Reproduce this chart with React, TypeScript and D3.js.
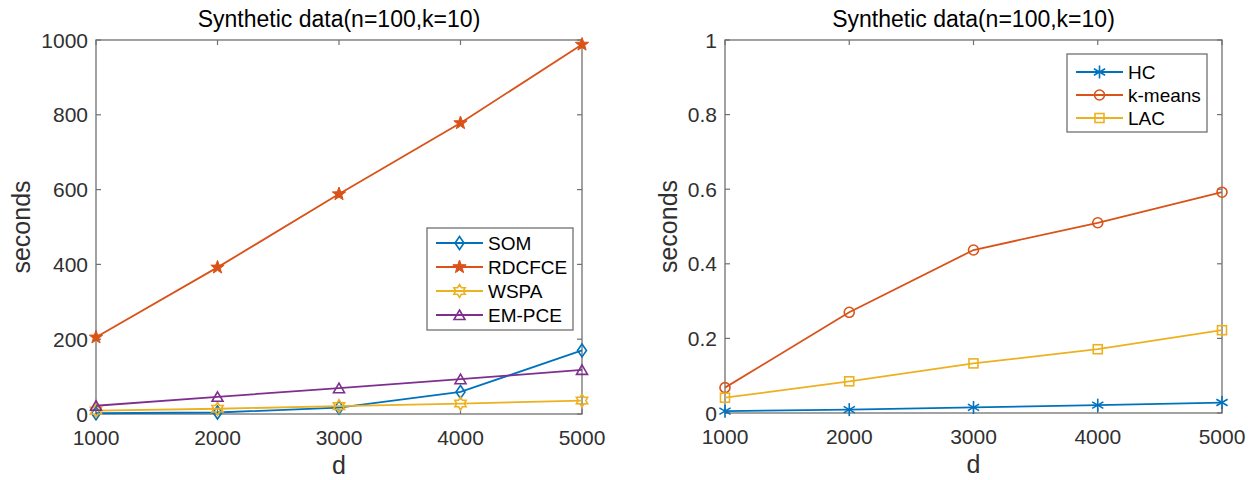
import React from "react";
import * as d3 from "d3";

const dValues = [1000, 2000, 3000, 4000, 5000];

const leftSeries = [
  { name: "SOM", color: "#0072BD", marker: "diamond", values: [2, 4, 17, 59, 170] },
  { name: "RDCFCE", color: "#D95319", marker: "pentagram", values: [205, 392, 588, 778, 988] },
  { name: "WSPA", color: "#EDB120", marker: "hexagram", values: [9, 14, 21, 28, 36] },
  { name: "EM-PCE", color: "#7E2F8E", marker: "triangle", values: [22, 46, 69, 93, 118] },
];

const rightSeries = [
  { name: "HC", color: "#0072BD", marker: "asterisk", values: [0.005, 0.009, 0.015, 0.021, 0.028] },
  { name: "k-means", color: "#D95319", marker: "circle", values: [0.068, 0.27, 0.437, 0.51, 0.592] },
  { name: "LAC", color: "#EDB120", marker: "square", values: [0.041, 0.085, 0.133, 0.171, 0.222] },
];

const leftYTicks = [0, 200, 400, 600, 800, 1000];
const rightYTicks = [0, 0.2, 0.4, 0.6, 0.8, 1];
const xTicks = [1000, 2000, 3000, 4000, 5000];

const titleText = "Synthetic data(n=100,k=10)";
const FONT = "'Liberation Sans', Arial, Helvetica, sans-serif";
const AXIS = "#707070";
const TEXT = "#303030";

function starPath(n: number, ro: number, ri: number) {
  const pts: string[] = [];
  for (let i = 0; i < 2 * n; i++) {
    const r = i % 2 === 0 ? ro : ri;
    const a = -Math.PI / 2 + (i * Math.PI) / n;
    pts.push(`${(r * Math.cos(a)).toFixed(2)},${(r * Math.sin(a)).toFixed(2)}`);
  }
  return "M" + pts.join("L") + "Z";
}

function Marker({ type, x, y, color }: { type: string; x: number; y: number; color: string }) {
  const common = { fill: "none", stroke: color, strokeWidth: 1.6 } as any;
  const t = `translate(${x},${y})`;
  switch (type) {
    case "diamond":
      return <path transform={t} d="M0,-6.5L4.5,0L0,6.5L-4.5,0Z" {...common} />;
    case "pentagram":
      return <path transform={t} d={starPath(5, 7, 2.9)} fill={color} stroke={color} strokeWidth={1} />;
    case "hexagram":
      return <path transform={t} d={starPath(6, 6.5, 3.8)} {...common} />;
    case "triangle":
      return <path transform={t} d="M0,-5L5.5,4.5L-5.5,4.5Z" {...common} />;
    case "asterisk":
      return (
        <g transform={t} stroke={color} strokeWidth={1.6}>
          <line x1={0} y1={-6.5} x2={0} y2={6.5} />
          <line x1={-5.6} y1={-3.25} x2={5.6} y2={3.25} />
          <line x1={-5.6} y1={3.25} x2={5.6} y2={-3.25} />
        </g>
      );
    case "circle":
      return <circle cx={x} cy={y} r={5} {...common} />;
    case "square":
      return <rect x={x - 4.5} y={y - 4.5} width={9} height={9} {...common} />;
  }
  return null;
}

type Series = { name: string; color: string; marker: string; values: number[] };

function Panel({
  x0, x1, y0, y1, yMax, yTicks, series, fmt, ylabelX, legend,
}: {
  x0: number; x1: number; y0: number; y1: number; yMax: number; yTicks: number[];
  series: Series[]; fmt: (v: number) => string; ylabelX: number;
  legend: { x: number; y: number; w: number; h: number; row0: number; dy: number };
}) {
  const xs = d3.scaleLinear().domain([1000, 5000]).range([x0, x1]);
  const ys = d3.scaleLinear().domain([0, yMax]).range([y1, y0]);
  const line = d3.line<number>().x((_, i) => xs(dValues[i])).y((v) => ys(v));
  const tl = 5;
  const cx = (x0 + x1) / 2;
  return (
    <g>
      <rect x={x0} y={y0} width={x1 - x0} height={y1 - y0} fill="white" stroke={AXIS} strokeWidth={1.3} />
      {xTicks.map((t) => (
        <g key={"xt" + t}>
          <line x1={xs(t)} x2={xs(t)} y1={y1} y2={y1 - tl} stroke={AXIS} strokeWidth={1.2} />
          <line x1={xs(t)} x2={xs(t)} y1={y0} y2={y0 + tl} stroke={AXIS} strokeWidth={1.2} />
          <text x={xs(t)} y={y1 + 31} textAnchor="middle" fontSize={21} fill={TEXT} fontFamily={FONT}>
            {t}
          </text>
        </g>
      ))}
      {yTicks.map((t) => (
        <g key={"yt" + t}>
          <line x1={x0} x2={x0 + tl} y1={ys(t)} y2={ys(t)} stroke={AXIS} strokeWidth={1.2} />
          <line x1={x1} x2={x1 - tl} y1={ys(t)} y2={ys(t)} stroke={AXIS} strokeWidth={1.2} />
          <text x={x0 - 8} y={ys(t)} dy="0.36em" textAnchor="end" fontSize={21} fill={TEXT} fontFamily={FONT}>
            {fmt(t)}
          </text>
        </g>
      ))}
      <text x={cx} y={y0 - 13} textAnchor="middle" fontSize={23} fill="#000" fontFamily={FONT}>
        {titleText}
      </text>
      <text x={cx} y={y1 + 60} textAnchor="middle" fontSize={25} fill={TEXT} fontFamily={FONT}>
        d
      </text>
      <text
        transform={`translate(${ylabelX},${(y0 + y1) / 2}) rotate(-90)`}
        textAnchor="middle"
        fontSize={25}
        fill={TEXT}
        fontFamily={FONT}
      >
        seconds
      </text>
      {series.map((s) => (
        <g key={s.name}>
          <path d={line(s.values) || ""} fill="none" stroke={s.color} strokeWidth={1.8} />
          {s.values.map((v, i) => (
            <Marker key={i} type={s.marker} x={xs(dValues[i])} y={ys(v)} color={s.color} />
          ))}
        </g>
      ))}
      <rect x={legend.x} y={legend.y} width={legend.w} height={legend.h} fill="white" stroke={AXIS} strokeWidth={1.3} />
      {series.map((s, i) => {
        const ly = legend.row0 + i * legend.dy;
        const lx0 = legend.x + 9;
        const lx1 = legend.x + 56;
        return (
          <g key={"lg" + s.name}>
            <line x1={lx0} x2={lx1} y1={ly} y2={ly} stroke={s.color} strokeWidth={1.8} />
            <Marker type={s.marker} x={(lx0 + lx1) / 2} y={ly} color={s.color} />
            <text x={lx1 + 5} y={ly} dy="0.36em" fontSize={19} fill="#000" fontFamily={FONT}>
              {s.name}
            </text>
          </g>
        );
      })}
    </g>
  );
}

export default function App() {
  return (
    <svg
      width={1257}
      height={480}
      style={{ position: "absolute", left: 0, top: 0, background: "white" }}
    >
      <rect width={1257} height={480} fill="white" />
      <Panel
        x0={96}
        x1={582}
        y0={40}
        y1={414}
        yMax={1000}
        yTicks={leftYTicks}
        series={leftSeries}
        fmt={(v) => String(v)}
        ylabelX={30}
        legend={{ x: 427, y: 228, w: 146, h: 102, row0: 243, dy: 24 }}
      />
      <Panel
        x0={725}
        x1={1222}
        y0={40}
        y1={413}
        yMax={1}
        yTicks={rightYTicks}
        series={rightSeries}
        fmt={(v) => String(v)}
        ylabelX={677}
        legend={{ x: 1067, y: 54, w: 140, h: 78, row0: 72, dy: 23 }}
      />
    </svg>
  );
}
